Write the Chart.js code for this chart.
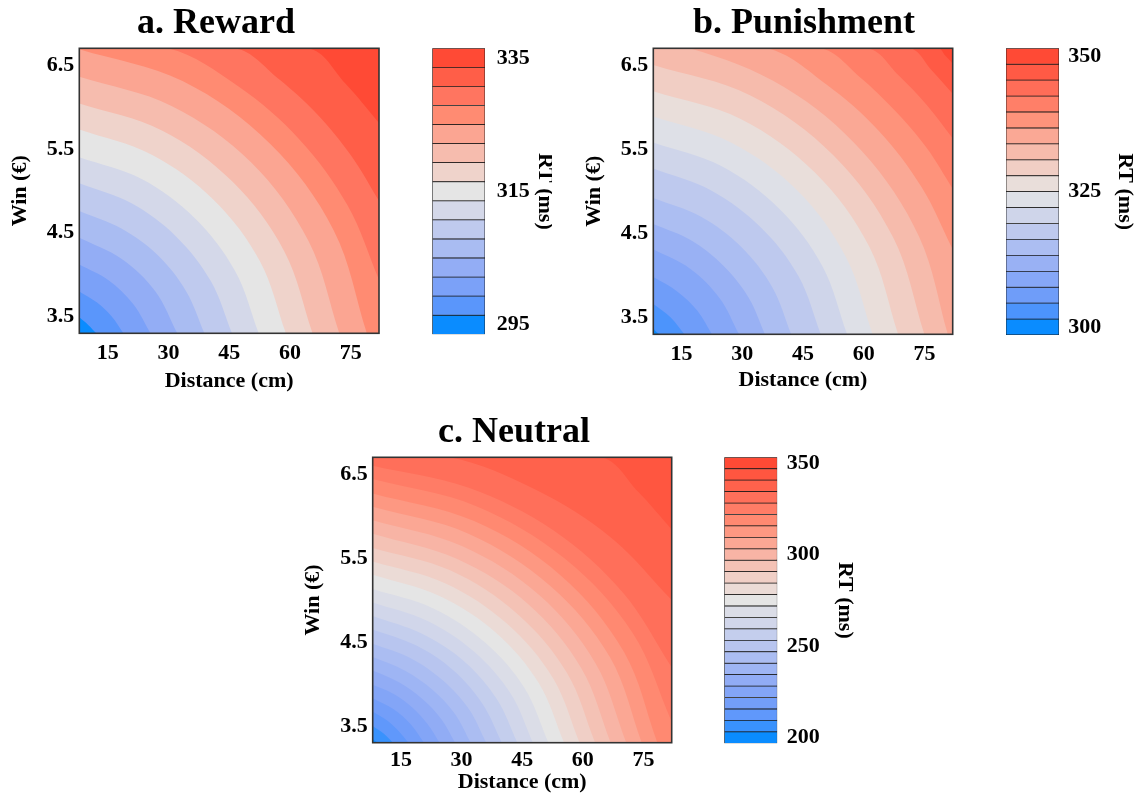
<!DOCTYPE html>
<html>
<head>
<meta charset="utf-8">
<script src="https://cdn.jsdelivr.net/npm/chart.js@4.4.0/dist/chart.umd.min.js"></script>
<style>
    body { margin: 0; width: 1144px; height: 796px; background: #fff; position: relative; overflow: hidden; }
    .box { position: absolute; }
    .clip { position: absolute; overflow: hidden; }
</style>
</head>
<body>
<div class="box" style="left:0px;top:0px"><canvas id="plotA" width="432" height="400"></canvas></div>
<div class="clip" style="left:420px;top:0px;width:132px;height:400px"><canvas id="barA" width="150" height="400"></canvas></div>
<div class="box" style="left:580px;top:0px"><canvas id="plotB" width="448" height="400"></canvas></div>
<div class="box" style="left:994px;top:0px"><canvas id="barB" width="150" height="400"></canvas></div>
<div class="box" style="left:300px;top:409px"><canvas id="plotC" width="428" height="387"></canvas></div>
<div class="box" style="left:712px;top:409px"><canvas id="barC" width="150" height="387"></canvas></div>
<script>
// axes
const distanceRange = [8, 82];
const winRange = [3.3, 6.7];
const distanceTicks = [15, 30, 45, 60, 75];
const winTicks = [3.5, 4.5, 5.5, 6.5];

// colorbar levels (band centres, ms) and the labelled ones
const rewardLevels = [295, 297.86, 300.71, 303.57, 306.43, 309.29, 312.14, 315, 317.86, 320.71, 323.57, 326.43, 329.29, 332.14, 335];
const rewardTickLabels = [295, 315, 335];
const punishmentLevels = [300, 302.94, 305.88, 308.82, 311.76, 314.71, 317.65, 320.59, 323.53, 326.47, 329.41, 332.35, 335.29, 338.24, 341.18, 344.12, 347.06, 350];
const punishmentTickLabels = [300, 325, 350];
const neutralLevels = [200, 206.25, 212.5, 218.75, 225, 231.25, 237.5, 243.75, 250, 256.25, 262.5, 268.75, 275, 281.25, 287.5, 293.75, 300, 306.25, 312.5, 318.75, 325, 331.25, 337.5, 343.75, 350];
const neutralTickLabels = [200, 250, 300, 350];

// contour boundaries, [distance, win] points; boundary k separates band k from band k+1
const rewardContours = [
    [[8, 3.49], [10.2, 3.40], [12.2, 3.3]],
    [[8, 3.80], [12.3, 3.67], [16.0, 3.50], [18.9, 3.3]],
    [[8, 4.12], [15.3, 3.93], [21.3, 3.65], [25.6, 3.3]],
    [[8, 4.44], [18.4, 4.19], [26.8, 3.80], [32.2, 3.3]],
    [[8, 4.76], [18.4, 4.55], [27.4, 4.23], [34.4, 3.80], [38.9, 3.3]],
    [[8, 5.09], [20.9, 4.85], [32.0, 4.45], [40.5, 3.92], [45.7, 3.3]],
    [[8, 5.40], [23.4, 5.14], [36.6, 4.67], [46.5, 4.04], [52.3, 3.3]],
    [[8, 5.73], [25.9, 5.43], [41.2, 4.89], [52.6, 4.16], [59.0, 3.3]],
    [[8, 6.04], [28.4, 5.72], [45.8, 5.11], [58.6, 4.28], [65.6, 3.3]],
    [[8, 6.36], [30.9, 6.01], [50.4, 5.34], [64.6, 4.40], [72.2, 3.3]],
    [[8, 6.69], [33.5, 6.31], [55.1, 5.56], [70.8, 4.53], [79.0, 3.3]],
    [[29.9, 6.7], [47.4, 6.24], [62.4, 5.61], [74.2, 4.83], [82, 3.94]],
    [[46.4, 6.7], [57.1, 6.34], [66.8, 5.91], [75.1, 5.42], [82, 4.88]],
    [[64.4, 6.7], [73.7, 6.28], [82, 5.81]]
];

const punishmentContours = [
    [[8, 3.37], [8.7, 3.33], [9.5, 3.3]],
    [[8, 3.66], [12.3, 3.50], [15.7, 3.3]],
    [[8, 3.98], [13.9, 3.81], [18.9, 3.58], [22.5, 3.3]],
    [[8, 4.31], [17.1, 4.08], [24.4, 3.73], [29.2, 3.3]],
    [[8, 4.61], [17.2, 4.42], [25.2, 4.12], [31.5, 3.74], [35.6, 3.3]],
    [[8, 4.92], [19.7, 4.70], [29.7, 4.34], [37.4, 3.86], [42.1, 3.3]],
    [[8, 5.27], [22.3, 5.01], [34.6, 4.57], [43.9, 3.99], [49.4, 3.3]],
    [[8, 5.58], [24.8, 5.30], [39.2, 4.79], [49.8, 4.11], [55.9, 3.3]],
    [[8, 5.89], [27.2, 5.58], [43.6, 5.01], [55.6, 4.22], [62.2, 3.3]],
    [[8, 6.19], [29.6, 5.86], [48.0, 5.22], [61.4, 4.34], [68.5, 3.3]],
    [[8, 6.50], [32.0, 6.14], [52.5, 5.43], [67.3, 4.45], [75.0, 3.3]],
    [[17.0, 6.7], [40.3, 6.24], [59.7, 5.47], [73.7, 4.46], [80.8, 3.3]],
    [[36.0, 6.7], [50.8, 6.27], [63.7, 5.72], [74.3, 5.05], [82, 4.31]],
    [[49.2, 6.7], [59.0, 6.36], [67.7, 5.96], [75.5, 5.52], [82, 5.03]],
    [[60.8, 6.7], [68.6, 6.38], [75.7, 6.02], [82, 5.63]],
    [[71.2, 6.7], [76.8, 6.44], [82, 6.16]],
    [[78.4, 6.7], [80.2, 6.61], [82, 6.52]]
];

const neutralContours = [
    [[8, 3.34], [8.6, 3.32], [9.15, 3.3]],
    [[8, 3.50], [10.7, 3.41], [13.0, 3.3]],
    [[8, 3.67], [11.4, 3.57], [14.4, 3.44], [16.85, 3.3]],
    [[8, 3.83], [13.1, 3.70], [17.4, 3.52], [20.7, 3.3]],
    [[8, 3.99], [13.2, 3.88], [17.8, 3.72], [21.6, 3.52], [24.55, 3.3]],
    [[8, 4.16], [14.5, 4.02], [20.3, 3.82], [25.0, 3.58], [28.4, 3.3]],
    [[8, 4.32], [15.9, 4.16], [22.8, 3.93], [28.4, 3.64], [32.25, 3.3]],
    [[8, 4.48], [17.3, 4.31], [25.4, 4.04], [31.8, 3.70], [36.1, 3.3]],
    [[8, 4.65], [18.7, 4.46], [28.0, 4.16], [35.2, 3.76], [39.95, 3.3]],
    [[8, 4.81], [20.1, 4.60], [30.6, 4.27], [38.7, 3.82], [43.8, 3.3]],
    [[8, 4.97], [21.6, 4.75], [33.2, 4.38], [42.2, 3.88], [47.65, 3.3]],
    [[8, 5.13], [23.0, 4.90], [35.9, 4.49], [45.6, 3.95], [51.5, 3.3]],
    [[8, 5.30], [24.4, 5.05], [38.5, 4.61], [49.1, 4.01], [55.35, 3.3]],
    [[8, 5.46], [25.9, 5.20], [41.2, 4.72], [52.6, 4.07], [59.2, 3.3]],
    [[8, 5.62], [27.3, 5.35], [43.9, 4.83], [56.1, 4.13], [63.05, 3.3]],
    [[8, 5.79], [28.8, 5.49], [46.5, 4.95], [59.6, 4.19], [66.9, 3.3]],
    [[8, 5.95], [30.2, 5.64], [49.2, 5.06], [63.1, 4.25], [70.75, 3.3]],
    [[8, 6.11], [31.7, 5.79], [51.9, 5.17], [66.7, 4.32], [74.6, 3.3]],
    [[8, 6.27], [33.1, 5.94], [54.6, 5.29], [70.2, 4.38], [78.45, 3.3]],
    [[8, 6.44], [33.5, 6.12], [55.6, 5.49], [72.3, 4.61], [82, 3.55]],
    [[8, 6.60], [31.6, 6.34], [52.7, 5.83], [69.9, 5.09], [82, 4.2]],
    [[27.1, 6.7], [48.5, 6.31], [67.1, 5.74], [82, 5.0]],
    [[64.3, 6.7], [73.7, 6.29], [82, 5.84]]
];

// colour ramp, blue -> grey -> red, sampled off the reward colorbar
const rampColors = ['#0a8cff', '#5a96fb', '#7ba1f8', '#93adf5', '#a9bcf2', '#bfcaee', '#d4d8e9', '#e5e5e5',
    '#efd3cb', '#f6bcae', '#fba592', '#ff8b72', '#ff7560', '#ff5e48', '#ff4a35'];

const SERIF = "'Liberation Serif', 'Times New Roman', serif";
const tickFont = { family: SERIF, size: 22, weight: 'bold' };
const labelFont = { family: SERIF, size: 22, weight: 'bold' };
const HALF_LINE = 13.2; // half of the label line height

function hexToRgb(h) {
    return [1, 3, 5].map(i => parseInt(h.substr(i, 2), 16));
}

function bandColors(n) {
    const out = [];
    for (let i = 0; i < n; i++) {
        const t = i / (n - 1) * (rampColors.length - 1);
        const j = Math.min(Math.floor(t), rampColors.length - 2);
        const f = t - j;
        const a = hexToRgb(rampColors[j]), b = hexToRgb(rampColors[j + 1]);
        const c = a.map((v, m) => Math.round(v + (b[m] - v) * f));
        out.push('rgb(' + c.join(',') + ')');
    }
    return out;
}

const framePlugin = {
    id: 'frame',
    afterDatasetsDraw(chart) {
        const { ctx, chartArea: a } = chart;
        ctx.save();
        ctx.strokeStyle = '#333';
        ctx.lineWidth = 1.6;
        ctx.strokeRect(a.left, a.top, a.right - a.left, a.bottom - a.top);
        ctx.restore();
    }
};

function makePlot(id, title, contours, levels, box) {
    const colors = bandColors(levels.length);
    const datasets = contours.map((pts, k) => {
        const data = pts.map(p => ({ x: p[0], y: p[1] }));
        // boundary that leaves through the top edge: close it along the top
        if (pts[0][0] > distanceRange[0]) data.unshift({ x: distanceRange[0], y: winRange[1] });
        return {
            data: data,
            backgroundColor: colors[k],
            borderWidth: 0,
            pointRadius: 0,
            fill: 'start',
            tension: 0.35
        };
    });
    // highest band fills the rest of the area
    datasets.push({
        data: [{ x: distanceRange[0], y: winRange[1] }, { x: distanceRange[1], y: winRange[1] }],
        backgroundColor: colors[contours.length],
        borderWidth: 0,
        pointRadius: 0,
        fill: 'start'
    });

    return new Chart(document.getElementById(id), {
        type: 'line',
        data: { datasets: datasets },
        plugins: [framePlugin],
        options: {
            responsive: false,
            animation: false,
            plugins: {
                legend: { display: false },
                tooltip: { enabled: false },
                title: {
                    display: true,
                    text: title,
                    color: '#000',
                    font: { family: SERIF, size: 36, weight: 'bold' },
                    padding: { top: 2, bottom: 3.1 }
                }
            },
            scales: {
                x: {
                    type: 'linear',
                    min: distanceRange[0],
                    max: distanceRange[1],
                    grid: { display: false, drawTicks: false },
                    border: { display: false },
                    afterBuildTicks: s => { s.ticks = distanceTicks.map(v => ({ value: v })); },
                    afterFit: s => { s.height = box.xHeight; },
                    ticks: { color: '#000', font: tickFont, padding: box.xTickPad, maxRotation: 0, autoSkip: false },
                    title: { display: true, text: 'Distance (cm)', color: '#000', font: labelFont, padding: { top: 0, bottom: box.xTitlePad } }
                },
                y: {
                    type: 'linear',
                    min: winRange[0],
                    max: winRange[1],
                    grid: { display: false, drawTicks: false },
                    border: { display: false },
                    afterBuildTicks: s => { s.ticks = winTicks.map(v => ({ value: v })); },
                    afterFit: s => { s.width = box.yWidth; },
                    ticks: { color: '#000', font: tickFont, padding: 5, callback: v => v.toFixed(1) },
                    title: { display: true, text: 'Win (€)', color: '#000', font: labelFont, padding: { top: box.yWidth - 59.3 - HALF_LINE, bottom: 0 } }
                },
                // empty right-hand spacer so the title stays centred on the canvas
                y2: {
                    position: 'right',
                    grid: { display: false },
                    border: { display: false },
                    ticks: { display: false },
                    afterFit: s => { s.width = box.rightPad; }
                }
            }
        }
    });
}

function makeColorbar(id, levels, tickLabels, box) {
    const colors = bandColors(levels.length);
    const step = (levels[levels.length - 1] - levels[0]) / (levels.length - 1);
    const datasets = levels.map((lv, i) => ({
        data: [[lv - step / 2, lv + step / 2]],
        backgroundColor: colors[i],
        borderColor: '#1a1a1a',
        borderWidth: 0.75,
        borderSkipped: false,
        grouped: false,
        barPercentage: 1,
        categoryPercentage: 1
    }));

    return new Chart(document.getElementById(id), {
        type: 'bar',
        data: { labels: [''], datasets: datasets },
        options: {
            responsive: false,
            animation: false,
            layout: { padding: { left: box.padLeft, top: box.padTop, bottom: box.padBottom } },
            plugins: { legend: { display: false }, tooltip: { enabled: false } },
            scales: {
                x: { display: false },
                y: {
                    position: 'right',
                    min: levels[0] - step / 2,
                    max: levels[levels.length - 1] + step / 2,
                    grid: { display: false, drawTicks: false },
                    border: { display: false },
                    afterBuildTicks: s => { s.ticks = tickLabels.map(v => ({ value: v })); },
                    afterFit: s => { s.width = box.axisWidth; },
                    ticks: { color: '#000', font: tickFont, padding: box.tickPad },
                    title: { display: true, text: 'RT (ms)', color: '#000', font: labelFont, padding: { top: box.titleOffset - HALF_LINE } }
                }
            }
        }
    });
}

makePlot('plotA', 'a. Reward', rewardContours, rewardLevels,
    { yWidth: 79.3, rightPad: 53, xHeight: 66.7, xTickPad: 6.5, xTitlePad: 5.5 });
makePlot('plotB', 'b. Punishment', punishmentContours, punishmentLevels,
    { yWidth: 73.3, rightPad: 75.3, xHeight: 65.7, xTickPad: 7, xTitlePad: 6.8 });
makePlot('plotC', 'c. Neutral', neutralContours, neutralLevels,
    { yWidth: 72.7, rightPad: 56.3, xHeight: 53.3, xTickPad: 4.5, xTitlePad: 0 });

makeColorbar('barA', rewardLevels, rewardTickLabels,
    { padLeft: 12.3, padTop: 48.3, padBottom: 65.7, axisWidth: 85, titleOffset: 25, tickPad: 11.7 });
makeColorbar('barB', punishmentLevels, punishmentTickLabels,
    { padLeft: 12, padTop: 48.3, padBottom: 65, axisWidth: 85, titleOffset: 19, tickPad: 9.3 });
makeColorbar('barC', neutralLevels, neutralTickLabels,
    { padLeft: 12.3, padTop: 48.3, padBottom: 52.7, axisWidth: 84.7, titleOffset: 17, tickPad: 9.4 });
</script>
</body>
</html>
